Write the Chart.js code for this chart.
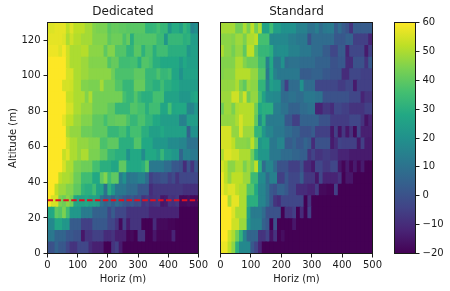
<!DOCTYPE html>
<html><head><meta charset="utf-8">
<script src="https://cdn.jsdelivr.net/npm/chart.js@4"></script>
<style>
html,body{margin:0;padding:0;background:#fff;width:450px;height:291px;overflow:hidden}
canvas{position:absolute;top:0}
</style></head><body>
<canvas id="c1" width="210" height="291" style="left:0;width:210px;height:291px"></canvas>
<canvas id="c2" width="175" height="291" style="left:210px;width:175px;height:291px"></canvas>
<canvas id="c3" width="65" height="291" style="left:385px;width:65px;height:291px"></canvas>
<script>
const horizCenters=[6.25,18.75,31.25,43.75,56.25,68.75,81.25,93.75,106.25,118.75,131.25,143.75,156.25,168.75,181.25,193.75,206.25,218.75,231.25,243.75,256.25,268.75,281.25,293.75,306.25,318.75,331.25,343.75,356.25,368.75,381.25,393.75,406.25,418.75,431.25,443.75,456.25,468.75,481.25,493.75];
const altEdges=[0,6.5,13,19.5,26,32.5,39,45.5,52,58.5,65,71.5,78,84.5,91,97.5,104,110.5,117,123.5,130];
const thresholdAlt=30;
const cbarTicks=[-20,-10,0,10,20,30,40,50,60];

// Dedicated, rows bottom to top
const d0=[0,0,6,2,2,-3,-8,-8,-3,-3,-3,-10,-13,-13,-13,-20,-20,-8,-5,-14,-20,-20,-20,-20,-20,-20,-20,-20,-20,-20,-20,-20,-20,-20,-20,-20,-20,-20,-20,-20];
const d1=[12,12,6,6,6,2,2,0,0,-15,-8,-8,-5,-5,-5,-10,-10,-8,-13,-13,-13,-19,-18,-20,-8,-8,-20,-20,-15,-19,-19,-19,-19,-12,-20,-20,-20,-20,-20,-20];
const d2=[17,17,27,27,22,22,3,3,3,-5,-5,-5,2,2,2,2,-3,-3,-8,-18,-5,-14,-8,-8,-8,-20,-20,-20,-10,-18,-18,-18,-19,-19,-20,-20,-20,-20,-20,-20];
const d3=[28,28,40,38,44,35,22,22,22,13,13,13,5,5,5,5,-3,3,-3,-3,-3,-8,-8,-8,-8,-8,-8,-12,-12,-12,-12,-12,-12,-12,-12,-20,-20,-20,-20,-20];
const d4=[60,55,55,44,42,46,42,27,26,26,28,25,26,24,10,6,8,4,9,6,2,0,2,-1,0,-8,-6,-9,-8,-7,-15,-14,-8,-9,-7,-18,-18,-17,-18,-18];
const d5=[60,60,52,48,48,45,45,40,40,32,30,30,35,26,26,10,30,22,12,12,12,8,8,8,2,2,2,-10,-7,-7,-7,-7,-7,-7,-7,-7,-9,-9,-9,-9];
const d6=[60,60,60,52,50,50,48,42,42,35,35,35,28,28,40,45,35,40,40,14,20,10,12,12,15,15,8,-5,-2,-2,0,0,-5,-2,-8,-3,-3,-3,-3,-3];
const d7=[60,60,60,60,55,50,50,44,44,42,42,42,36,36,30,30,30,27,27,40,40,28,28,28,28,30,38,12,12,12,12,8,8,2,2,0,-10,0,-8,2];
const d8=[60,60,60,60,53,56,50,50,47,50,50,44,44,44,40,40,33,33,30,30,30,20,28,28,28,18,28,28,28,24,33,25,25,22,22,6,15,15,12,12];
const d9=[60,60,60,60,60,54,50,50,47,47,47,45,45,45,37,37,40,40,40,30,30,30,30,38,38,28,28,28,22,22,22,22,18,18,18,16,16,10,10,10];
const d10=[60,60,60,60,60,50,47,47,47,42,42,42,40,40,40,40,33,33,33,36,36,30,36,36,36,30,30,25,25,25,28,25,25,25,25,25,25,5,20,20];
const d11=[60,60,60,60,57,52,52,48,48,45,45,45,40,40,40,36,40,40,41,41,41,37,33,33,37,37,32,32,28,28,24,24,24,24,24,15,15,24,24,24];
const d12=[60,60,60,60,60,55,55,50,50,47,47,47,43,43,43,43,40,40,33,33,33,33,38,38,36,36,30,35,35,35,27,27,36,27,28,28,28,16,16,22];
const d13=[60,60,60,60,60,53,53,50,50,50,45,50,43,43,43,43,43,43,43,43,36,33,33,38,33,30,30,30,36,36,36,26,26,26,26,22,22,22,26,28];
const d14=[60,60,60,60,55,55,54,50,50,45,45,44,44,44,49,43,43,43,38,38,33,33,33,41,41,41,33,33,30,30,35,30,30,28,28,24,24,24,24,24];
const d15=[60,60,60,60,60,55,55,50,50,48,48,46,46,46,46,46,46,42,37,37,37,37,37,40,40,40,33,33,33,37,33,33,35,27,27,20,26,26,26,26];
const d16=[60,60,60,60,60,54,50,50,50,48,48,45,45,45,45,45,38,41,41,35,35,35,36,36,30,38,38,36,30,30,28,28,28,28,28,23,28,25,25,25];
const d17=[58,58,58,56,59,54,50,50,50,51,51,46,46,46,46,40,45,45,38,38,38,32,32,39,39,31,37,37,30,35,35,35,30,30,30,30,30,22,25,25];
const d18=[57,57,57,57,56,50,54,51,51,49,49,49,45,45,45,45,40,42,42,42,37,41,30,38,38,38,38,38,38,34,34,22,33,33,33,33,30,31,24,24];
const d19=[56,56,57,57,57,52,56,52,52,52,49,49,45,44,44,44,39,41,41,40,40,39,39,39,39,39,32,32,33,36,33,33,22,29,29,25,32,29,16,19];

// Standard, rows bottom to top
const s0=[58,58,52,46,30,17,17,17,2,-4,-12,-20,-20,-20,-20,-20,-20,-20,-20,-20,-20,-20,-20,-20,-20,-20,-20,-20,-20,-20,-20,-20,-20,-20,-20,-20,-20,-20,-20,-20];
const s1=[60,60,54,50,42,32,16,6,6,6,-8,-8,-4,-16,-8,-20,-17,-20,-20,-20,-20,-20,-20,-20,-20,-20,-20,-20,-20,-20,-20,-20,-20,-20,-20,-20,-20,-20,-20,-20];
const s2=[60,60,60,54,54,48,48,22,15,15,15,5,2,-20,0,-20,-20,-20,-20,-15,-20,-20,-20,-20,-20,-20,-20,-20,-20,-20,-20,-20,-20,-20,-20,-20,-20,-20,-20,-20];
const s3=[60,60,60,56,50,50,50,25,13,13,13,8,0,0,0,0,-20,-8,-8,-5,-20,-10,-20,-5,-20,-20,-20,-20,-20,-20,-20,-20,-20,-20,-20,-20,-20,-20,-20,-20];
const s4=[60,60,50,57,57,50,50,30,30,30,16,16,10,2,-8,-10,-3,-3,-3,-3,-3,-3,-20,-8,-20,-20,-20,-20,-20,-20,-20,-20,-20,-20,-20,-20,-20,-20,-20,-20];
const s5=[58,54,56,56,52,50,50,38,38,28,16,16,10,2,0,5,5,2,-3,-3,-10,-10,-10,-12,-12,-6,-18,-18,-19,-19,-5,-20,-20,-20,-20,-20,-20,-20,-20,-20];
const s6=[58,52,47,52,52,52,48,48,34,34,18,18,8,15,15,-5,-5,2,-3,-3,-3,3,-7,-7,-7,-15,-3,-12,-12,-12,-12,-8,-20,-15,-15,-20,-20,-20,-20,-20];
const s7=[55,52,46,46,50,50,44,48,44,52,30,8,16,16,8,0,0,0,-5,-5,-5,0,-10,-10,-14,-3,-3,-7,-7,-3,-3,-15,-19,-14,-19,-14,-19,-14,-20,-20];
const s8=[50,56,56,54,54,50,50,50,42,30,22,22,22,12,12,12,8,8,8,6,6,4,4,-8,-4,-8,-8,-6,-6,-8,-8,-12,-12,-12,-14,-14,-14,-14,-14,-14];
const s9=[55,55,55,52,46,46,46,45,52,42,22,25,25,12,12,16,16,3,3,6,2,2,6,3,-10,0,0,0,0,-14,-10,-4,-5,-5,-5,-5,-15,-5,-14,-14];
const s10=[55,55,55,47,47,55,48,48,48,32,32,22,16,16,12,12,12,8,8,5,5,0,0,0,3,-5,-5,-5,-5,-15,-5,-16,-7,-15,-8,-18,-3,-13,-13,-13];
const s11=[47,47,47,47,50,55,51,51,51,40,19,30,13,13,13,13,13,2,2,-5,-5,5,5,5,5,5,0,0,0,-6,-6,-6,-6,-6,-3,-3,-3,-8,-16,-12];
const s12=[42,48,48,44,50,51,51,51,51,42,28,30,30,30,14,14,10,10,5,5,5,8,8,10,10,-12,-12,-7,-7,-10,-3,-3,-5,-5,-8,-8,-8,-8,-5,-5];
const s13=[48,48,48,54,54,47,54,42,47,47,35,26,18,18,17,17,8,8,10,10,8,8,12,12,12,10,10,0,0,0,0,0,0,0,-3,-3,-3,-12,-8,-8];
const s14=[47,47,47,47,50,44,40,48,46,46,32,32,15,25,22,22,8,-5,8,8,8,20,8,8,8,-3,-3,-3,-3,-3,-3,-6,-6,-3,-3,-14,-5,-5,-5,-5];
const s15=[45,46,46,46,51,51,51,51,47,47,38,38,12,27,15,12,12,12,12,12,12,3,3,3,5,5,5,2,2,0,0,0,-10,-10,-3,-3,-3,-5,-5,-5];
const s16=[45,45,45,45,50,50,45,42,42,42,35,35,15,28,12,12,20,8,10,10,10,8,8,8,8,5,5,5,5,0,0,2,2,-10,-10,0,0,0,-8,2];
const s17=[50,46,46,43,47,47,40,52,52,40,33,33,33,30,18,19,19,19,15,15,15,12,12,12,8,8,8,3,3,-3,-3,3,3,-12,-3,-3,-3,-3,-14,-5];
const s18=[46,46,46,45,48,48,44,50,50,52,36,36,36,17,17,17,17,17,14,14,12,12,12,0,8,8,8,8,8,8,2,2,2,5,5,-5,-5,-5,-5,-12];
const s19=[49,49,49,49,43,43,50,44,52,43,50,26,26,35,24,24,20,20,20,20,15,15,15,10,10,14,8,12,13,13,3,8,3,0,-8,3,3,3,3,3];

const dedicatedRows=[d0,d1,d2,d3,d4,d5,d6,d7,d8,d9,d10,d11,d12,d13,d14,d15,d16,d17,d18,d19];
const standardRows=[s0,s1,s2,s3,s4,s5,s6,s7,s8,s9,s10,s11,s12,s13,s14,s15,s16,s17,s18,s19];

const viridisStops=[[68,1,84],[72,36,117],[65,68,135],[53,95,141],[42,120,142],[33,145,140],[34,168,132],[68,191,112],[122,209,81],[189,223,38],[253,231,37]];
const vMin=-20,vMax=60;
function viridis(v){
  const t=Math.max(0,Math.min(1,(v-vMin)/(vMax-vMin)))*(viridisStops.length-1);
  const i=Math.min(Math.floor(t),viridisStops.length-2),f=t-i;
  const c=viridisStops[i].map((a,k)=>Math.round(a+(viridisStops[i+1][k]-a)*f));
  return `rgb(${c[0]},${c[1]},${c[2]})`;
}
const INK='#1a1a1a';
const tickFont={family:'"DejaVu Sans"',size:10};
const frame={id:'frame',afterDraw(ch){const a=ch.chartArea,c=ch.ctx;c.save();c.strokeStyle=INK;c.lineWidth=1;
  c.strokeRect(a.left,a.top,a.right-a.left,a.bottom-a.top);c.restore();}};
const tickGrid={drawOnChartArea:false,drawTicks:true,tickLength:4,tickColor:INK,tickWidth:1,offset:false};

function panel(id,rows,title,pad,showY){
  const datasets=rows.map((vals,r)=>({
    type:'bar',
    data:horizCenters.map((x,i)=>({x,y:[altEdges[r],altEdges[r+1]]})),
    backgroundColor:vals.map(viridis),
    borderWidth:0,inflateAmount:0.5,
    barPercentage:1,categoryPercentage:1,grouped:false,order:1
  }));
  if(showY) datasets.push({type:'line',data:[{x:0,y:thresholdAlt},{x:500,y:thresholdAlt}],
    borderColor:'#e01020',borderWidth:2,borderDash:[5.5,2.4],pointRadius:0,order:0});
  const yAxis={type:'linear',min:0,max:130,display:showY,grid:tickGrid,border:{display:false},
    ticks:{stepSize:20,includeBounds:false,color:INK,font:tickFont,padding:3,autoSkip:false},
    title:{display:true,text:'Altitude (m)',color:INK,font:tickFont,padding:{top:7,bottom:0}}};
  if(showY) yAxis.afterFit=s=>{s.width=47.5;};
  new Chart(document.getElementById(id),{
    data:{datasets},
    plugins:[frame],
    options:{responsive:false,animation:false,events:[],
      layout:{autoPadding:false,padding:pad},
      plugins:{legend:{display:false},tooltip:{enabled:false},
        title:{display:true,fullSize:false,text:title,color:INK,font:{family:'"DejaVu Sans"',size:12,weight:'normal',lineHeight:1.2},padding:{top:5,bottom:3.1}}},
      scales:{
        x:{type:'linear',min:0,max:500,offset:false,grid:tickGrid,border:{display:false},
          ticks:{stepSize:100,color:INK,font:tickFont,padding:2,maxRotation:0,autoSkip:false},
          title:{display:true,text:'Horiz (m)',color:INK,font:tickFont,padding:{top:2,bottom:6}},
          afterFit(s){s.height=37.5;}},
        y:yAxis
      }
    }
  });
}
panel('c1',dedicatedRows,'Dedicated',{left:0,right:10.5,top:0,bottom:0},true);
panel('c2',standardRows,'Standard',{left:10.5,right:12.5,top:0,bottom:0},false);

new Chart(document.getElementById('c3'),{
  type:'bar',
  data:{labels:[''],datasets:[{data:[[vMin,vMax]],borderWidth:0,barPercentage:1,categoryPercentage:1,
    backgroundColor(ctx){const a=ctx.chart.chartArea;if(!a)return '#000';
      const g=ctx.chart.ctx.createLinearGradient(0,a.bottom,0,a.top);
      viridisStops.forEach((c,i)=>g.addColorStop(i/(viridisStops.length-1),`rgb(${c})`));return g;}}]},
  plugins:[frame],
  options:{responsive:false,animation:false,events:[],
    layout:{autoPadding:false,padding:{left:9.5,right:0,top:22.5,bottom:37.5}},
    plugins:{legend:{display:false},tooltip:{enabled:false}},
    scales:{
      x:{display:false},
      y:{position:'right',min:vMin,max:vMax,grid:tickGrid,border:{display:false},
        afterBuildTicks(s){s.ticks=cbarTicks.map(value=>({value}));},
        ticks:{color:INK,font:tickFont,padding:3,autoSkip:false,callback:v=>String(v).replace('-','\u2212')},
        afterFit(s){s.width=34.5;}}
    }
  }
});
</script></body></html>
